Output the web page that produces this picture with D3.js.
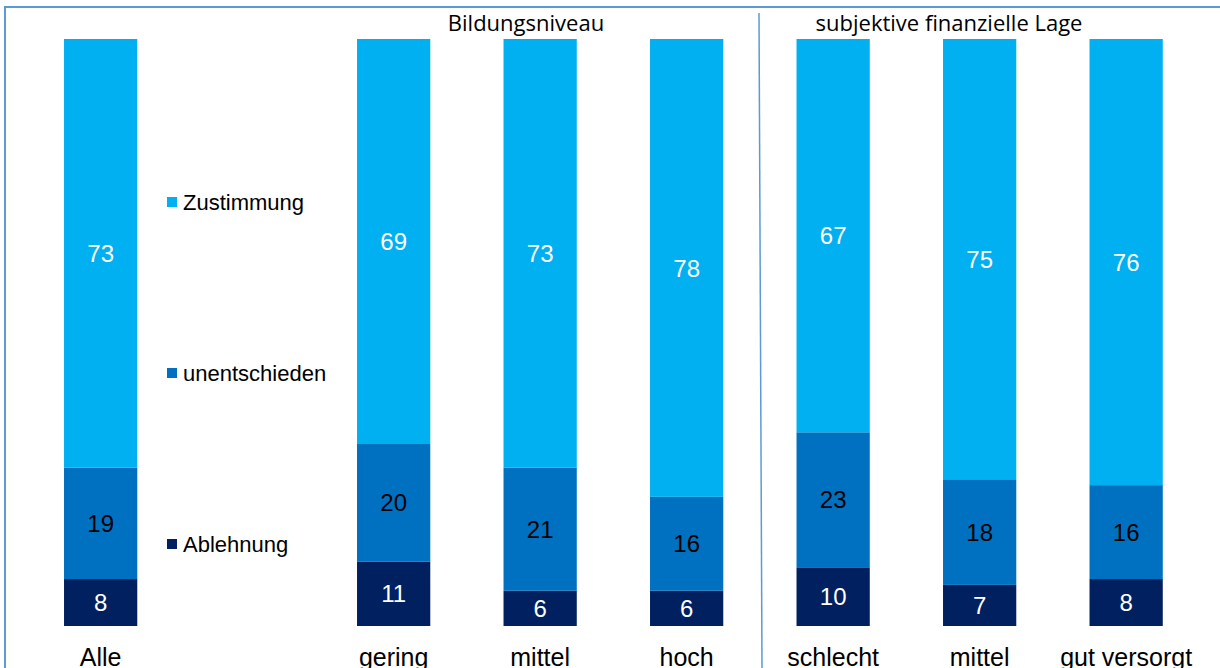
<!DOCTYPE html>
<html>
<head>
<meta charset="utf-8">
<script src="https://cdn.jsdelivr.net/npm/d3@7"></script>
<style>
  html, body { margin: 0; padding: 0; background: #fff; }
  svg { display: block; }
</style>
</head>
<body>
<script>
// slot index of each bar (slot 1 holds the legend)
var categories = ['Alle', 'gering', 'mittel', 'hoch', 'schlecht', 'mittel', 'gut versorgt'];
var slots = [0, 2, 3, 4, 5, 6, 7];
var ablehnung = [8, 11, 6, 6, 10, 7, 8];
var unentschieden = [19, 20, 21, 16, 23, 18, 16];
var zustimmung = [73, 69, 73, 78, 67, 75, 76];
var seriesNames = ['Ablehnung', 'unentschieden', 'Zustimmung'];
var groupTitles = ['Bildungsniveau', 'subjektive finanzielle Lage'];

var W = 1220, H = 668;
var colors = { Ablehnung: '#002060', unentschieden: '#0070C0', Zustimmung: '#00B0F0' };
var labelColors = { Ablehnung: '#fff', unentschieden: '#000', Zustimmung: '#fff' };

var rows = categories.map(function(c, i) {
  return { key: i, name: c, slot: slots[i],
    Ablehnung: ablehnung[i], unentschieden: unentschieden[i], Zustimmung: zustimmung[i] };
});

var svg = d3.select('body').append('svg')
  .attr('width', W)
  .attr('height', H);

var x = d3.scaleBand()
  .domain(d3.range(8))
  .range([27.4, 1199.4])
  .paddingInner(0.5)
  .paddingOuter(0.25);

var y = d3.scaleLinear()
  .domain([0, 100])
  .range([626, 39]);

// frame
svg.append('path')
  .attr('d', 'M5,' + H + 'V7H' + (W + 5))
  .attr('fill', 'none')
  .attr('stroke', '#5B9BD5')
  .attr('stroke-width', 2);

// divider between groups
svg.append('line')
  .attr('x1', 759).attr('y1', 13)
  .attr('x2', 762).attr('y2', H)
  .attr('stroke', '#5B9BD5')
  .attr('stroke-width', 1.5);

var stacked = d3.stack().keys(seriesNames)(rows);

var layers = svg.selectAll('.layer')
  .data(stacked)
  .enter()
  .append('g')
    .attr('class', 'layer')
    .attr('fill', function(d) { return colors[d.key]; });

layers.selectAll('rect')
  .data(function(d) { return d; })
  .enter()
  .append('rect')
    .attr('x', function(d) { return x(d.data.slot); })
    .attr('y', function(d) { return y(d[1]); })
    .attr('width', x.bandwidth())
    .attr('height', function(d) { return y(d[0]) - y(d[1]); });

// value labels
layers.selectAll('text')
  .data(function(d) { return d.map(function(p) { p.series = d.key; return p; }); })
  .enter()
  .append('text')
    .text(function(d) { return d.data[d.series]; })
    .attr('x', function(d) { return x(d.data.slot) + x.bandwidth() / 2; })
    .attr('y', function(d) { return (y(d[0]) + y(d[1])) / 2; })
    .attr('dy', '0.36em')
    .attr('text-anchor', 'middle')
    .attr('fill', function(d) { return labelColors[d.series]; })
    .style('font-family', 'Liberation Sans, Arial, sans-serif')
    .style('font-size', '24px');

// category labels (cut off by the bottom edge, as in the original)
svg.append('g').selectAll('text')
  .data(rows)
  .enter()
  .append('text')
    .text(function(d) { return d.name; })
    .attr('x', function(d) { return x(d.slot) + x.bandwidth() / 2; })
    .attr('y', 666)
    .attr('text-anchor', 'middle')
    .attr('fill', '#000')
    .style('font-family', 'Liberation Sans, Arial, sans-serif')
    .style('font-size', '25px');

// group titles
svg.append('g').selectAll('text')
  .data(groupTitles)
  .enter()
  .append('text')
    .text(function(d) { return d; })
    .attr('x', function(d, i) { return i === 0 ? 526 : 949; })
    .attr('y', 31)
    .attr('text-anchor', 'middle')
    .attr('fill', '#000')
    .style('font-family', 'Open Sans, sans-serif')
    .style('font-size', '22px');

// legend
var legend = svg.append('g')
  .selectAll('g')
  .data(seriesNames.slice().reverse())
  .enter()
  .append('g')
    .attr('transform', function(d, i) { return 'translate(167,' + (202 + i * 171) + ')'; });

legend.append('rect')
  .attr('x', 0)
  .attr('y', -5)
  .attr('width', 10)
  .attr('height', 10)
  .attr('fill', function(d) { return colors[d]; });

legend.append('text')
  .text(function(d) { return d; })
  .attr('x', 16)
  .attr('y', 0)
  .attr('dy', '0.36em')
  .attr('fill', '#000')
  .style('font-family', 'Liberation Sans, Arial, sans-serif')
  .style('font-size', '22px');
</script>
</body>
</html>
